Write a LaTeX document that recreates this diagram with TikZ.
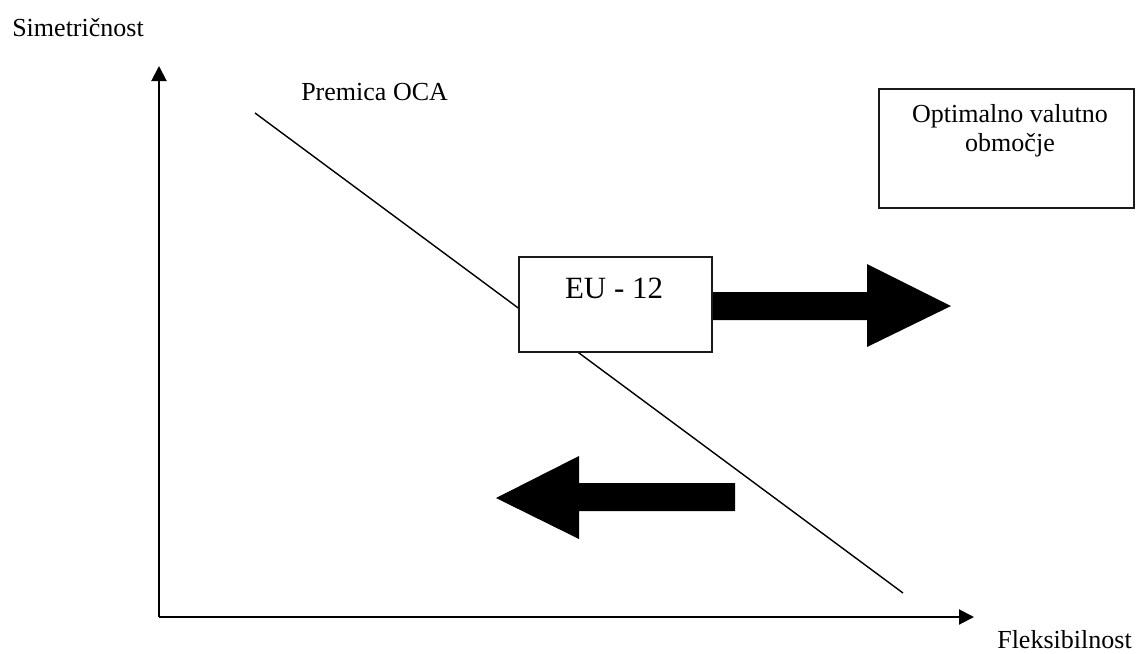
\documentclass[tikz,border=0pt]{standalone}
\usepackage{fontspec}
\setmainfont{Liberation Serif}
\usepackage{tikz}
\usetikzlibrary{arrows.meta,positioning,calc}
\definecolor{Ink}{HTML}{000000}
\definecolor{Frame}{HTML}{1A1A1A}

\begin{document}
\begin{tikzpicture}[x=0.025cm,y=-0.025cm,
  every node/.style={font=\fontsize{18.5}{18.5}\selectfont,inner sep=0pt},
  axisline/.style={line width=1.4pt,Ink,-{Triangle[length=0.375cm,width=0.375cm]}},
  ocaline/.style={line width=1pt,Ink},
  framebox/.style={draw=Frame,fill=white,line width=1.4pt},
  blockarrow/.style={fill=Ink}]
  \useasboundingbox (0,0) rectangle (1136,653);
  % axes
  \coordinate (o) at (159,617);
  \coordinate (ytop) at (159,66);
  \coordinate (xend) at (974,617);
  \draw[axisline] (o) -- (ytop);
  \draw[axisline] (o) -- (xend);
  \node[anchor=base west] (ylab) at (12,36) {Simetričnost};
  \node[anchor=base west] (xlab) at (997,648) {Fleksibilnost};
  % OCA line
  \coordinate (ocaA) at (255,113);
  \coordinate (ocaB) at (903,593);
  \draw[ocaline] (ocaA) -- (ocaB);
  \node[anchor=base west] (ocalab) at (301,100) {Premica OCA};
  % boxes
  \node[framebox,minimum width=6.375cm,minimum height=2.975cm] (optbox) at (1006.5,148.5) {};
  \node[anchor=north,align=center] (opttext) at (1010,104) {Optimalno valutno\\[2pt]območje};
  \node[framebox,minimum width=4.825cm,minimum height=2.375cm] (eu) at (615.5,304.5) {};
  \node[anchor=base,font=\fontsize{22}{26}\selectfont] (eulab) at (614,298) {EU - 12};
  % block arrows
  \fill[blockarrow] (eu.east |- 0,292) -- (867,292) -- (867,264) -- (951,306)
    -- (867,347) -- (867,320) -- (eu.east |- 0,320) -- cycle;
  \fill[blockarrow] (735,483) -- (579,483) -- (579,456) -- (496,498)
    -- (579,539) -- (579,511) -- (735,511) -- cycle;
\end{tikzpicture}
\end{document}
